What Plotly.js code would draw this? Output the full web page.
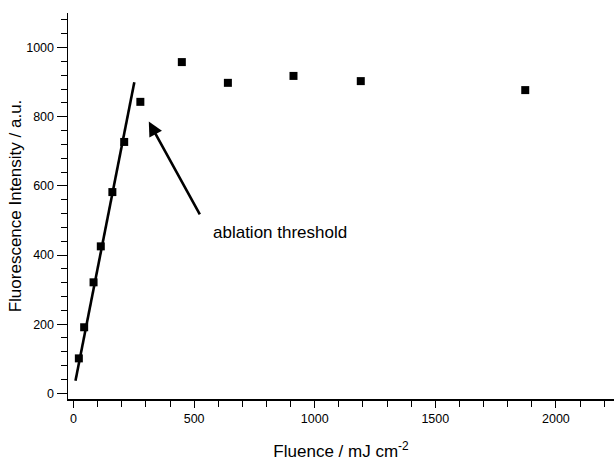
<!DOCTYPE html>
<html>
<head>
<meta charset="utf-8">
<script src="https://cdn.plot.ly/plotly-3.0.1.min.js"></script>
<style>html,body{margin:0;padding:0;background:#fff;}#chart{width:616px;height:461px;}</style>
</head>
<body>
<div id="chart"></div>
<script>
// Measured data (fluence in mJ cm^-2, fluorescence intensity in a.u.)
const fluence = [22, 44, 83, 113, 161, 210, 277, 449, 640, 912, 1191, 1873];
const intensity = [101, 191, 321, 425, 582, 727, 843, 958, 898, 918, 903, 877];
// Linear fit endpoints drawn in the reference
const fitX = [8, 252];
const fitY = [36, 900];
const xTickVals = [0, 500, 1000, 1500, 2000];
const yTickVals = [0, 200, 400, 600, 800, 1000];

const font = 'Liberation Sans, Arial, sans-serif';

const traces = [
  {
    x: fitX, y: fitY, type: 'scatter', mode: 'lines',
    line: {color: '#000', width: 2.6}, hoverinfo: 'skip', showlegend: false
  },
  {
    x: fluence, y: intensity, type: 'scatter', mode: 'markers',
    marker: {symbol: 'square', size: 8, color: '#000', line: {width: 0}},
    showlegend: false
  }
];

const layout = {
  width: 616, height: 461,
  margin: {l: 68, r: 2, t: 13, b: 62},
  paper_bgcolor: '#fff', plot_bgcolor: '#fff',
  font: {family: font, color: '#000', size: 12.5},
  showlegend: false,
  xaxis: {
    range: [-23, 2241],
    tickvals: xTickVals,
    ticks: 'outside', ticklen: 7, tickwidth: 1, tickcolor: '#000',
    minor: {dtick: 100, ticks: 'outside', ticklen: 6, tickwidth: 1, tickcolor: '#000'},
    showgrid: false, zeroline: false,
    showline: true, linecolor: '#000', linewidth: 1.5,
    tickfont: {family: font, size: 12.5},
    title: {text: 'Fluence / mJ cm<sup>-2</sup>', font: {family: font, size: 17}, standoff: 22},
    automargin: false
  },
  yaxis: {
    range: [-16.5, 1100],
    tickvals: yTickVals,
    ticks: 'outside', ticklen: 10, tickwidth: 1, tickcolor: '#000',
    minor: {dtick: 40, ticks: 'outside', ticklen: 6, tickwidth: 1, tickcolor: '#000'},
    showgrid: false, zeroline: false,
    showline: true, linecolor: '#000', linewidth: 1.5,
    tickfont: {family: font, size: 12.5},
    title: {text: 'Fluorescence Intensity / a.u.', font: {family: font, size: 17}, standoff: 0},
    automargin: false
  },
  annotations: [
    {
      x: 312, y: 786, xref: 'x', yref: 'y',
      ax: 527, ay: 513, axref: 'x', ayref: 'y',
      text: '', showarrow: true, arrowhead: 2, arrowsize: 1.1, arrowwidth: 2.6,
      arrowcolor: '#000', standoff: 0, startstandoff: 0
    },
    {
      x: 571, y: 464, xref: 'x', yref: 'y',
      text: 'ablation threshold', showarrow: false,
      xanchor: 'left', yanchor: 'middle',
      font: {family: font, size: 17, color: '#000'}
    }
  ]
};

Plotly.newPlot('chart', traces, layout, {displayModeBar: false, staticPlot: true});
</script>
</body>
</html>
